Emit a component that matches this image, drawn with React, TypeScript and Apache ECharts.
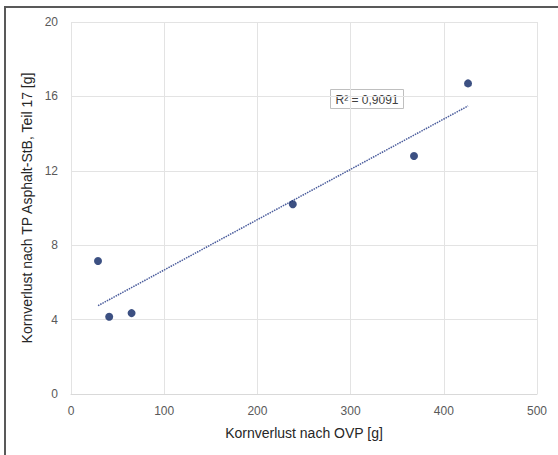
import React, { useEffect, useRef } from "react";
import * as echarts from "echarts";

const xValues = [29, 41, 65, 238, 368, 426];
const yValues = [7.15, 4.15, 4.35, 10.2, 12.8, 16.7];
const xTicks = [0, 100, 200, 300, 400, 500];
const yTicks = [0, 4, 8, 12, 16, 20];
const r2Label = "R² = 0,9091";
const xName = "Kornverlust nach OVP [g]";
const yName = "Kornverlust nach TP Asphalt-StB, Teil 17 [g]";

function linearFit(xs: number[], ys: number[]) {
  const n = xs.length;
  const mx = xs.reduce((a, b) => a + b, 0) / n;
  const my = ys.reduce((a, b) => a + b, 0) / n;
  let sxy = 0;
  let sxx = 0;
  for (let i = 0; i < n; i++) {
    sxy += (xs[i] - mx) * (ys[i] - my);
    sxx += (xs[i] - mx) * (xs[i] - mx);
  }
  const slope = sxy / sxx;
  return { slope, intercept: my - slope * mx };
}

export default function App() {
  const ref = useRef<HTMLDivElement>(null);
  useEffect(() => {
    document.body.style.margin = "0";
    if (!ref.current) return;
    const chart = echarts.init(ref.current, null, { renderer: "svg" });
    const fit = linearFit(xValues, yValues);
    const x0 = Math.min(...xValues);
    const x1 = Math.max(...xValues);
    const trend = [
      [x0, fit.intercept + fit.slope * x0],
      [x1, fit.intercept + fit.slope * x1],
    ];
    const font = "'Liberation Sans', Arial, sans-serif";
    chart.setOption({
      animation: false,
      backgroundColor: "#ffffff",
      textStyle: { fontFamily: font },
      grid: { left: 71, top: 22, right: 21, bottom: 61 },
      xAxis: {
        type: "value",
        min: xTicks[0],
        max: xTicks[xTicks.length - 1],
        interval: 100,
        name: xName,
        nameLocation: "middle",
        nameGap: 32,
        nameTextStyle: { fontSize: 14, color: "#262626", fontFamily: font },
        axisLine: { show: true, lineStyle: { color: "#d9d9d9", width: 1 } },
        axisTick: { show: false },
        axisLabel: { fontSize: 12, color: "#595959", margin: 11, fontFamily: font },
        splitLine: { show: true, lineStyle: { color: "#e3e3e3", width: 1 } },
      },
      yAxis: {
        type: "value",
        min: yTicks[0],
        max: yTicks[yTicks.length - 1],
        interval: 4,
        name: yName,
        nameLocation: "middle",
        nameGap: 32,
        nameTextStyle: { fontSize: 14, color: "#262626", fontFamily: font },
        axisLine: { show: false },
        axisTick: { show: false },
        axisLabel: { fontSize: 12, color: "#595959", margin: 13, fontFamily: font },
        splitLine: { show: true, lineStyle: { color: "#e3e3e3", width: 1 } },
      },
      series: [
        {
          type: "line",
          data: trend,
          symbol: "none",
          lineStyle: { color: "#4a5c9c", width: 1.5, type: [1.5, 1] },
          z: 2,
        },
        {
          type: "scatter",
          data: xValues.map((x, i) => [x, yValues[i]]),
          symbol: "circle",
          symbolSize: 8,
          itemStyle: { color: "#0b2463" },
          z: 3,
        },
      ],
      graphic: [
        {
          type: "rect",
          shape: { x: 5, y: 7, width: 600, height: 500 },
          style: { fill: "none", stroke: "#595959", lineWidth: 2 },
          silent: true,
        },
        {
          type: "group",
          left: 330,
          top: 89,
          children: [
            {
              type: "rect",
              shape: { x: 0, y: 0, width: 73, height: 19 },
              style: { fill: "#ffffff", stroke: "#bfbfbf", lineWidth: 1 },
            },
            {
              type: "text",
              x: 36.5,
              y: 10,
              style: {
                text: r2Label,
                fontSize: 12,
                fill: "#404040",
                align: "center",
                verticalAlign: "middle",
                fontFamily: font,
              },
            },
          ],
        },
      ],
    });
    return () => chart.dispose();
  }, []);
  return <div ref={ref} style={{ width: 558, height: 455 }} />;
}
